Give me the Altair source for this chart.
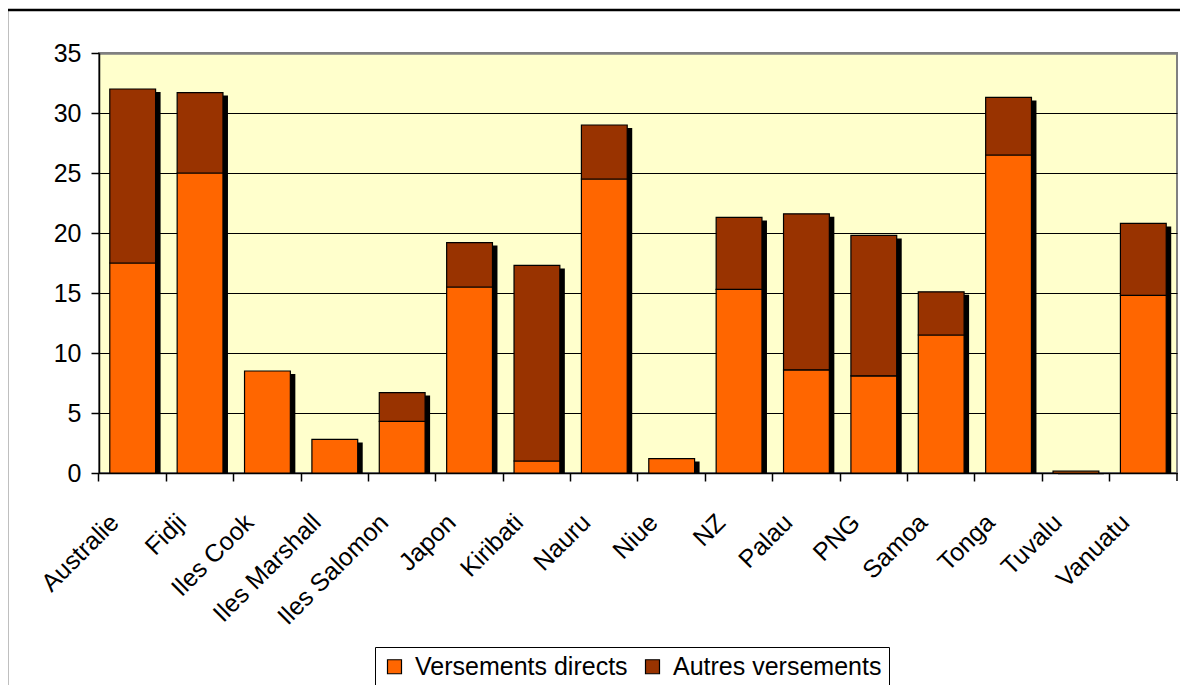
import altair as alt
import pandas as pd

countries = ["Australie", "Fidji", "Iles Cook", "Iles Marshall", "Iles Salomon", "Japon",
             "Kiribati", "Nauru", "Niue", "NZ", "Palau", "PNG", "Samoa", "Tonga",
             "Tuvalu", "Vanuatu"]
versements_directs = [17.5, 25.0, 8.5, 2.8, 4.3, 15.5, 1.0, 24.5, 1.2, 15.3, 8.6, 8.1, 11.5, 26.5, 0.15, 14.8]
autres_versements = [14.5, 6.7, 0.0, 0.0, 2.4, 3.7, 16.3, 4.5, 0.0, 6.0, 13.0, 11.7, 3.6, 4.8, 0.0, 6.0]
series_names = ["Versements directs", "Autres versements"]
series_colors = ["#FF6600", "#993300"]
y_ticks = [0, 5, 10, 15, 20, 25, 30, 35]

rows = []
for i, c in enumerate(countries):
    rows.append({"pays": c, "serie": series_names[0], "ordre": 0, "valeur": versements_directs[i]})
    rows.append({"pays": c, "serie": series_names[1], "ordre": 1, "valeur": autres_versements[i]})
df = pd.DataFrame(rows)

FONT = "Liberation Sans"
W, H = 1078, 420

x_enc = alt.X("pays:N", sort=countries,
              scale=alt.Scale(paddingInner=0.32, paddingOuter=0.16),
              axis=alt.Axis(title=None, labelAngle=-45, labelAlign="right", labelBaseline="middle",
                            labelFontSize=25, labelFont=FONT, labelColor="black",
                            tickColor="black", tickSize=8, tickWidth=1.5,
                            domainColor="black", domainWidth=1.5,
                            bandPosition=-0.2353, labelOffset=-18, labelPadding=37))

y_scale = alt.Scale(domain=[0, 35], nice=False)
y_axis = alt.Axis(title=None, values=y_ticks, labelFontSize=25, labelFont=FONT, labelColor="black",
                  labelPadding=10, tickColor="black", tickSize=8, tickWidth=1.5,
                  domainColor="black", domainWidth=1.5,
                  grid=True,
                  gridColor={"condition": {"test": "datum.value === 35", "value": "#808080"}, "value": "black"},
                  gridWidth={"condition": {"test": "datum.value === 35", "value": 2.5}, "value": 1.2})

base = alt.Chart(df)

shadow = base.mark_bar(color="black", xOffset=5, yOffset=3).encode(
    x=x_enc,
    y=alt.Y("sum(valeur):Q", scale=y_scale, axis=y_axis),
)

bars = base.transform_filter("datum.valeur > 0").mark_bar(stroke="black", strokeWidth=1.2).encode(
    x=x_enc,
    y=alt.Y("valeur:Q", stack="zero", scale=y_scale, axis=y_axis),
    color=alt.Color("serie:N", sort=series_names,
                    scale=alt.Scale(domain=series_names, range=series_colors),
                    legend=alt.Legend(title=None, orient="none", legendX=276, legendY=594,
                                      direction="horizontal", columns=2,
                                      symbolType="square", symbolSize=196,
                                      symbolStrokeColor="black", symbolStrokeWidth=1.2,
                                      labelFontSize=25, labelFont=FONT, labelColor="black",
                                      labelLimit=400,
                                      labelOffset=8, columnPadding=12,
                                      strokeColor="black", padding=7,
                                      fillColor="white")),
    order=alt.Order("ordre:Q", sort="ascending"),
)

deco = alt.Chart(pd.DataFrame({"k": [0]}))

frame = deco.mark_rect(fillOpacity=0, stroke="black", strokeWidth=2.5).encode(
    x=alt.value(-92), y=alt.value(-43), x2=alt.value(1300), y2=alt.value(900))

end_tick = deco.mark_rule(color="black", strokeWidth=1.5).encode(
    x=alt.value(W), y=alt.value(H), y2=alt.value(H + 8))

chart = alt.layer(shadow, bars, frame, end_tick).properties(
    width=W, height=H,
    autosize=alt.AutoSizeParams(type="none"),
    padding={"left": 91, "top": 45, "right": 3, "bottom": 212},
    background="white",
).configure_view(
    fill="#FFFFCC", stroke="#808080", strokeWidth=2
)

chart.save("out.html", embed_options={"renderer": "svg", "actions": False})
